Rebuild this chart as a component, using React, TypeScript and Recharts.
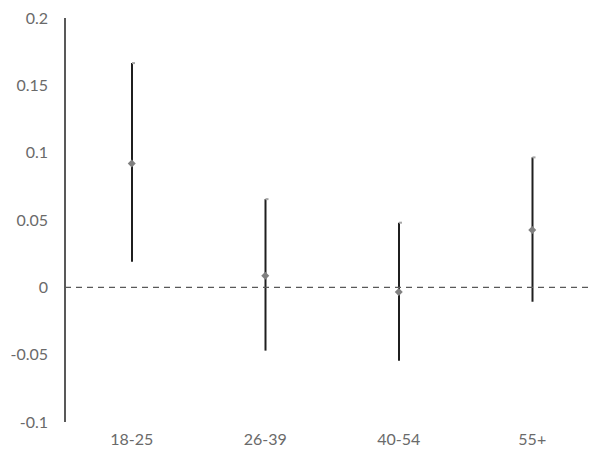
import { ComposedChart, Bar, Scatter, XAxis, YAxis, ReferenceLine } from 'recharts';

const groups = ['18-25', '26-39', '40-54', '55+'];
const highs = [0.1665, 0.0655, 0.048, 0.0965];
const lows = [0.019, -0.047, -0.0545, -0.0107];
const estimates = [0.092, 0.0086, -0.0035, 0.0425];
const yTicks = [-0.1, -0.05, 0, 0.05, 0.1, 0.15, 0.2];

const data = groups.map((g, i) => ({
  group: g,
  range: [lows[i], highs[i]],
  estimate: estimates[i],
}));

const RangeShape = (props: any) => {
  const { x, y, width, height } = props;
  const cx = x + width / 2;
  return (
    <g>
      <line x1={cx} x2={cx} y1={y} y2={y + height} stroke="#1f1f1f" strokeWidth={2} />
      <line x1={cx} x2={cx + 3} y1={y} y2={y} stroke="#a6a6a6" strokeWidth={2} />
    </g>
  );
};

const Diamond = (props: any) => {
  const { cx, cy } = props;
  const r = 4;
  return (
    <path
      d={`M${cx},${cy - r}L${cx + r},${cy}L${cx},${cy + r}L${cx - r},${cy}Z`}
      fill="#808080"
    />
  );
};

const tickStyle = { fill: '#6a6a6a', fontSize: 16, fontFamily: 'Lato, sans-serif' };

export default function App() {
  return (
    <div style={{ position: 'absolute', left: 0, top: 0, width: 592, height: 452, overflow: 'hidden', background: '#fff' }}>
      <ComposedChart width={600} height={452} data={data} margin={{ top: 18, right: 1, bottom: 0, left: 0 }}>
        <XAxis
          dataKey="group"
          axisLine={false}
          tickLine={false}
          tickSize={0}
          tickMargin={12}
          height={30}
          tick={tickStyle}
        />
        <YAxis
          type="number"
          domain={[-0.1, 0.2]}
          ticks={yTicks}
          width={65}
          tickLine={false}
          tickSize={0}
          tickMargin={17}
          axisLine={{ stroke: '#595959', strokeWidth: 2 }}
          tick={tickStyle}
          interval={0}
        />
        <ReferenceLine y={0} stroke="#595959" strokeWidth={1.3} strokeDasharray="6 5" />
        <Bar dataKey="range" shape={<RangeShape />} barSize={20} isAnimationActive={false} />
        <Scatter dataKey="estimate" shape={<Diamond />} isAnimationActive={false} />
      </ComposedChart>
    </div>
  );
}
